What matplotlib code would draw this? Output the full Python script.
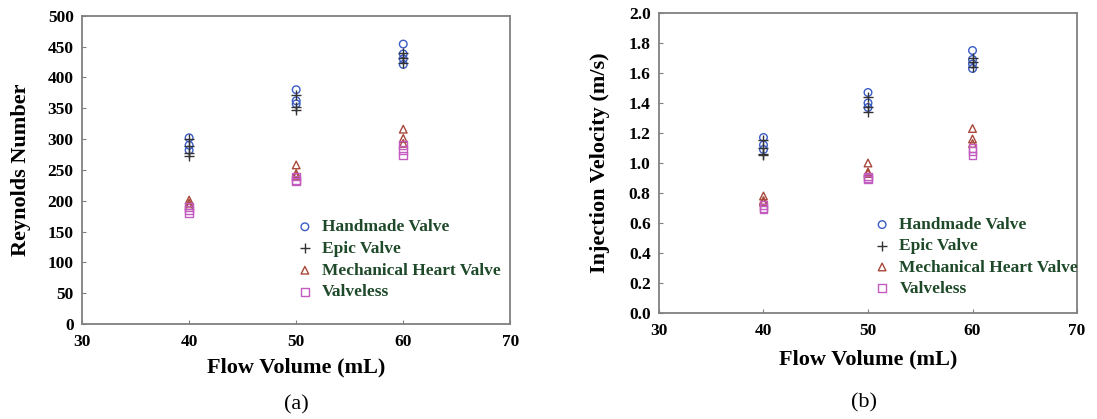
import numpy as np
import matplotlib
matplotlib.use("Agg")
import matplotlib.pyplot as plt

plt.rcParams['font.family'] = ['Liberation Serif', 'DejaVu Serif']

volumes = [40, 50, 60]
series = ["Handmade Valve", "Epic Valve", "Mechanical Heart Valve", "Valveless"]

# Reynolds number, several repeated runs per flow volume
re_handmade = [[302, 290, 282], [380, 362, 357], [454, 438, 430, 421]]
re_epic = [[300, 288, 278, 272], [371, 352, 347], [440, 432, 424]]
re_mech = [[201, 196, 192], [258, 244, 240], [316, 301, 293]]
re_valveless = [[190, 185, 180], [239, 234, 231], [290, 282, 273]]

# injection velocity (m/s)
v_handmade = [[1.17, 1.12, 1.09], [1.47, 1.40, 1.37], [1.75, 1.69, 1.66, 1.63]]
v_epic = [[1.15, 1.10, 1.06, 1.05], [1.44, 1.37, 1.34], [1.70, 1.67, 1.64]]
v_mech = [[0.78, 0.75, 0.74], [1.00, 0.94, 0.93], [1.23, 1.16, 1.13]]
v_valveless = [[0.72, 0.70, 0.69], [0.91, 0.90, 0.89], [1.10, 1.08, 1.05]]

colors = ["#3a5cc4", "#333333", "#a8483a", "#c25cc0"]
markers = ["o", "+", "^", "s"]
green = "#1f4a2a"

fig = plt.figure(figsize=(10.97, 4.19), dpi=100)
ax1 = fig.add_axes([0.0748, 0.2267, 0.3904, 0.7358])
ax2 = fig.add_axes([0.6007, 0.2530, 0.3811, 0.7160])


def draw(ax, data, ylim, yticks, yfmt, ylabel, ylab_x, xlab_y, leg_xy, spacing):
    for vals, c, m, name in zip(data, colors, markers, series):
        xs, ys = [], []
        for v, runs in zip(volumes, vals):
            xs += [v] * len(runs)
            ys += runs
        if m == "+":
            ax.scatter(xs, ys, marker=m, color=c, s=45, linewidths=1.0, label=name, zorder=3)
        else:
            ax.scatter(xs, ys, marker=m, facecolors="none", edgecolors=c, s=30,
                       linewidths=1.0, label=name, zorder=3)
    ax.set_xlim(30, 70)
    ax.set_ylim(*ylim)
    ax.set_xticks([30, 40, 50, 60, 70])
    ax.set_yticks(yticks)
    ax.set_yticklabels([yfmt.format(t) for t in yticks])
    for s in ax.spines.values():
        s.set_color("#808080")
        s.set_linewidth(1.3)
    ax.tick_params(direction="in", length=3, color="#808080", labelsize=12.5)
    ax.tick_params(axis="x", pad=7)
    ax.tick_params(axis="y", pad=6)
    for lab in ax.get_xticklabels() + ax.get_yticklabels():
        lab.set_fontweight("bold")
    ax.set_ylabel(ylabel, fontsize=16, fontweight="bold")
    ax.set_xlabel("Flow Volume (mL)", fontsize=16, fontweight="bold")
    ax.yaxis.set_label_coords(ylab_x, 0.5)
    ax.xaxis.set_label_coords(0.5, xlab_y)
    leg = ax.legend(loc="upper left", bbox_to_anchor=leg_xy, frameon=False,
                    borderpad=0, borderaxespad=0, handlelength=1.0,
                    handletextpad=0.5, labelspacing=spacing,
                    prop={"size": 12.5, "weight": "bold"})
    for t in leg.get_texts():
        t.set_color(green)


draw(ax1, [re_handmade, re_epic, re_mech, re_valveless], (0, 500),
     np.arange(0, 501, 50), "{:.0f}", "Reynolds Number", -0.119, -0.110, (0.50, 0.340), 0.32)
draw(ax2, [v_handmade, v_epic, v_mech, v_valveless], (0, 2.0),
     np.arange(0, 2.01, 0.2), "{:.1f}", "Injection Velocity (m/s)", -0.117, -0.12, (0.513, 0.32), 0.29)

fig.text(296 / 1097, 1 - 405 / 419, "(a)", ha="center", va="center", fontsize=16)
fig.text(864 / 1097, 1 - 403 / 419, "(b)", ha="center", va="center", fontsize=16)

fig.savefig("out.png", dpi=100)
